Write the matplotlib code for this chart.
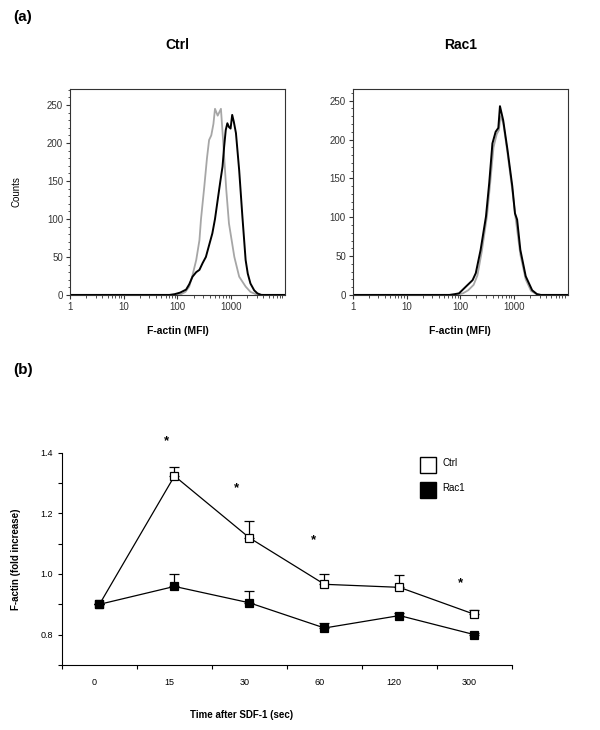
import numpy as np
import matplotlib
matplotlib.use('Agg')
import matplotlib.pyplot as plt
from matplotlib.lines import Line2D
from matplotlib.ticker import MultipleLocator, LogLocator, NullFormatter, FixedLocator

plt.rcParams['font.family'] = ['Liberation Sans', 'DejaVu Sans']

# (a) flow cytometry histograms: F-actin MFI vs counts
ctrl_gray_mfi = [1, 100, 117, 141, 166, 191, 224, 257, 275, 316, 355, 389, 427, 468, 501, 562,
                 646, 708, 813, 912, 1148, 1413, 1862, 2291, 2884, 3981, 10000]
ctrl_gray_cnt = [0, 0, 1, 4, 11, 26, 46, 72, 100, 142, 180, 204, 210, 225, 245, 236,
                 245, 204, 138, 94, 50, 24, 11, 4, 1, 0, 0]
ctrl_black_mfi = [1, 71, 89, 112, 145, 166, 191, 224, 257, 295, 339, 398, 447, 501, 562, 631,
                  692, 741, 794, 851, 912, 977, 1047, 1122, 1230, 1413, 1622, 1862, 2042, 2291,
                  2692, 3090, 3631, 10000]
ctrl_black_cnt = [0, 0, 1, 3, 7, 14, 24, 30, 33, 42, 50, 68, 81, 100, 125, 150,
                  169, 195, 217, 226, 221, 219, 237, 228, 213, 164, 103, 46, 28, 15,
                  6, 2, 0, 0]
rac_gray_mfi = [1, 79, 112, 141, 178, 209, 251, 316, 363, 417, 479, 525, 562, 631, 759, 933,
                1072, 1318, 1660, 2089, 2630, 3162, 10000]
rac_gray_cnt = [0, 0, 2, 6, 13, 25, 55, 102, 145, 190, 207, 212, 230, 222, 183, 135,
                100, 52, 20, 5, 1, 0, 0]
rac_black_mfi = [1, 63, 79, 95, 129, 170, 195, 240, 302, 347, 398, 457, 513, 550, 631, 759,
                 933, 1047, 1148, 1318, 1660, 2188, 2692, 3162, 10000]
rac_black_cnt = [0, 0, 1, 2, 11, 19, 28, 58, 101, 144, 195, 210, 215, 243, 225, 187,
                 140, 105, 97, 58, 24, 6, 1, 0, 0]

# (b) time course
times = ['0', '15', '30', '60', '120', '300']
ctrl_mean = [0.90, 1.323, 1.119, 0.966, 0.956, 0.867]
ctrl_err = [0.0, 0.031, 0.056, 0.034, 0.041, 0.015]
rac_mean = [0.90, 0.959, 0.905, 0.822, 0.863, 0.800]
rac_err = [0.0, 0.041, 0.038, 0.015, 0.007, 0.005]
star_x = [1.39, 2.33, 3.36, 5.31]
star_y = [1.437, 1.283, 1.111, 0.970]

fig = plt.figure(figsize=(6, 7.3), dpi=100)


def histogram_panel(rect, title, gray_x, gray_y, black_x, black_y, ytop, ylabel=None):
    ax = fig.add_axes(rect)
    ax.plot(gray_x, gray_y, color='#a6a6a6', lw=1.3)
    ax.plot(black_x, black_y, color='black', lw=1.4)
    ax.set_xscale('log')
    ax.set_xlim(1, 10000)
    ax.set_ylim(0, ytop)
    ax.xaxis.set_major_locator(FixedLocator([1, 10, 100, 1000]))
    ax.set_xticklabels(['1', '10', '100', '1000'])
    ax.xaxis.set_minor_locator(LogLocator(base=10, subs=np.arange(2, 10), numticks=20))
    ax.xaxis.set_minor_formatter(NullFormatter())
    ax.yaxis.set_major_locator(MultipleLocator(50))
    ax.yaxis.set_minor_locator(MultipleLocator(10))
    ax.tick_params(which='major', length=3, width=0.8, labelsize=7, colors='#333333', pad=2)
    ax.tick_params(which='minor', length=1.8, width=0.6, colors='#333333')
    for s in ax.spines.values():
        s.set_linewidth(0.8)
        s.set_color('#333333')
    ax.set_xlabel('F-actin (MFI)', fontsize=7.5, fontweight='bold', labelpad=10)
    if ylabel:
        ax.set_ylabel(ylabel, fontsize=7, labelpad=18)
    ax.set_title(title, fontsize=10, fontweight='bold', pad=29)
    return ax


histogram_panel([0.1167, 0.596, 0.358, 0.282], 'Ctrl', ctrl_gray_mfi, ctrl_gray_cnt,
                ctrl_black_mfi, ctrl_black_cnt, 271, ylabel='Counts')
histogram_panel([0.588, 0.596, 0.358, 0.282], 'Rac1', rac_gray_mfi, rac_gray_cnt,
                rac_black_mfi, rac_black_cnt, 265)

fig.text(0.022, 0.977, '(a)', fontsize=11, fontweight='bold', va='center')
fig.text(0.022, 0.493, '(b)', fontsize=11, fontweight='bold', va='center')

# (b) line chart
ax = fig.add_axes([0.1033, 0.089, 0.75, 0.291])
xpos = np.arange(len(times)) + 0.5
ax.errorbar(xpos, ctrl_mean, yerr=[np.zeros(len(ctrl_err)), ctrl_err], fmt='none',
            ecolor='black', elinewidth=0.9, capsize=3.5, capthick=0.9)
ax.errorbar(xpos, rac_mean, yerr=[np.zeros(len(rac_err)), rac_err], fmt='none',
            ecolor='black', elinewidth=0.9, capsize=3.5, capthick=0.9)
ax.plot(xpos, ctrl_mean, color='black', lw=0.9, marker='s', ms=5.5,
        mfc='white', mec='black', mew=0.9, zorder=3)
ax.plot(xpos, rac_mean, color='black', lw=0.9, marker='s', ms=5.5,
        mfc='black', mec='black', mew=0.9, zorder=3)
for sx, sy in zip(star_x, star_y):
    ax.text(sx, sy, '*', fontsize=9.5, fontweight='bold', ha='center', va='center')

ax.set_xlim(0, 6)
ax.set_ylim(0.7, 1.4)
ax.spines['top'].set_visible(False)
ax.spines['right'].set_visible(False)
for s in ('left', 'bottom'):
    ax.spines[s].set_linewidth(0.8)
ax.xaxis.set_major_locator(FixedLocator(np.arange(0, 7)))
ax.xaxis.set_major_formatter(NullFormatter())
ax.xaxis.set_minor_locator(FixedLocator(xpos - 0.07))
ax.set_xticklabels(times, minor=True)
ax.tick_params(axis='x', which='minor', length=0, labelsize=6.5, pad=9)
ax.tick_params(axis='x', which='major', length=3, width=0.8)
ax.yaxis.set_major_locator(FixedLocator([0.8, 1.0, 1.2, 1.4]))
ax.set_yticklabels(['0.8', '1.0', '1.2', '1.4'])
ax.yaxis.set_minor_locator(FixedLocator([0.7, 0.9, 1.1, 1.3]))
ax.tick_params(axis='y', which='both', length=3, width=0.8, labelsize=6.5)
ax.set_ylabel('F-actin (fold increase)', fontsize=7, fontweight='bold', labelpad=14)
ax.set_xlabel('Time after SDF-1 (sec)', fontsize=7, fontweight='bold')
ax.xaxis.set_label_coords(0.4, -0.21)

handles = [Line2D([], [], ls='none', marker='s', ms=12, mfc='white', mec='black', mew=1),
           Line2D([], [], ls='none', marker='s', ms=12, mfc='black', mec='black', mew=1)]
leg = ax.legend(handles, ['Ctrl', 'Rac1'], loc='upper left', bbox_to_anchor=(0.781, 1.005),
                frameon=False, fontsize=7, handletextpad=0.9, labelspacing=1.55, handlelength=1.2)
for t in leg.get_texts():
    t.set_va('bottom')

fig.savefig('out.png', dpi=100)
